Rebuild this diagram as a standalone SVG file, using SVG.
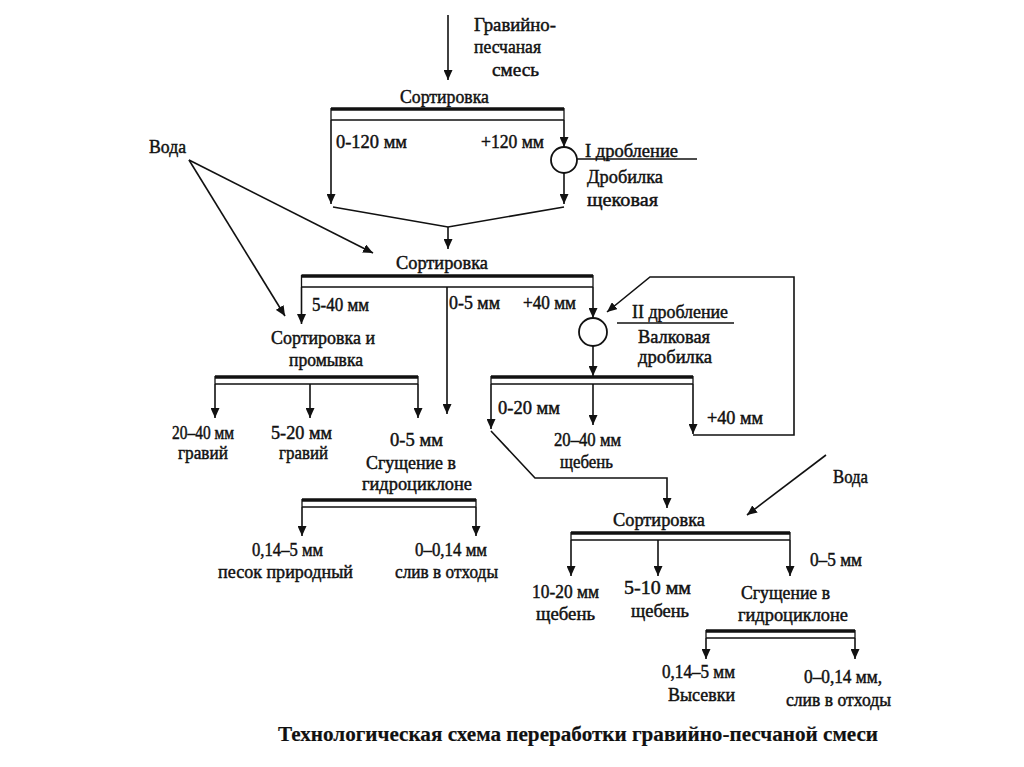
<svg xmlns="http://www.w3.org/2000/svg" width="1024" height="767" viewBox="0 0 1024 767">
<style>
text{font-family:"Liberation Serif","Times New Roman",serif;font-size:18px;fill:#111;stroke:#111;stroke-width:0.45}
.cap{font-size:22px;font-weight:bold;stroke-width:0.2}
.ln{fill:none;stroke:#111;stroke-width:1.6}
.thick{fill:none;stroke:#111;stroke-width:3.5}
.thin{fill:none;stroke:#111;stroke-width:1.3}
.arr{fill:none;stroke:#111;stroke-width:1.6;marker-end:url(#ah)}
.crusher{fill:#fff;stroke:#111;stroke-width:1.8}
</style>
<defs>
<marker id="ah" markerUnits="userSpaceOnUse" markerWidth="10" markerHeight="9" refX="10" refY="4.5" orient="auto">
<path d="M0,0 L10,4.5 L0,9 z" fill="#111"/>
</marker>
</defs>
<rect width="1024" height="767" fill="#fff"/>

<g id="connectors">
<path class="arr" d="M448,15 V80"/>
<path class="arr" d="M331,120 V204"/>
<path class="arr" d="M564,120 V147"/>
<path class="arr" d="M564,173 V204"/>
<path class="ln" d="M333,207 L448,227 L564,207"/>
<path class="arr" d="M448,227 V249"/>
<path class="arr" d="M189,160 L373,253"/>
<path class="arr" d="M189,160 L285,316"/>
<path class="arr" d="M301.5,287 V324"/>
<path class="arr" d="M447,287 V414"/>
<path class="arr" d="M593,287 V318"/>
<path class="arr" d="M593,346 V376"/>
<path class="arr" d="M491,384 V429"/>
<path class="arr" d="M593,384 V425"/>
<path class="arr" d="M693,384 V434"/>
<path class="arr" d="M693,435 H794 V277 H650 L607,312"/>
<path class="arr" d="M491,431 L535,478 H667 V508"/>
<path class="arr" d="M215,384 V418"/>
<path class="arr" d="M310,384 V418"/>
<path class="arr" d="M418,384 V418"/>
<path class="arr" d="M302,507 V536"/>
<path class="arr" d="M476,507 V536"/>
<path class="arr" d="M826,455 L747,515"/>
<path class="arr" d="M571,540 V576"/>
<path class="arr" d="M658,540 V576"/>
<path class="arr" d="M790,540 V576"/>
<path class="arr" d="M706,638 V659"/>
<path class="arr" d="M855,638 V659"/>
</g>

<g id="feed">
<text x="474" y="31" textLength="82" lengthAdjust="spacingAndGlyphs">Гравийно-</text>
<text x="474" y="53" textLength="67" lengthAdjust="spacingAndGlyphs">песчаная</text>
<text x="492" y="76" textLength="47" lengthAdjust="spacingAndGlyphs">смесь</text>
</g>

<g id="sort1">
<text x="400" y="103" textLength="89" lengthAdjust="spacingAndGlyphs">Сортировка</text>
<path class="thick" d="M331,109 H564"/>
<path class="thin" d="M331,120 H564 M331,108 V120 M564,108 V120"/>
<text x="336" y="148" textLength="71" lengthAdjust="spacingAndGlyphs">0-120 мм</text>
<text x="481" y="148" textLength="63" lengthAdjust="spacingAndGlyphs">+120 мм</text>
</g>

<g id="crusher1">
<circle class="crusher" cx="564" cy="160" r="13"/>
<path class="ln" d="M577,159 H697"/>
<text x="585" y="157" textLength="93" lengthAdjust="spacingAndGlyphs">I дробление</text>
<text x="587" y="183" textLength="76" lengthAdjust="spacingAndGlyphs">Дробилка</text>
<text x="587" y="206" textLength="71" lengthAdjust="spacingAndGlyphs">щековая</text>
</g>

<g id="water1">
<text x="149" y="153" textLength="37" lengthAdjust="spacingAndGlyphs">Вода</text>
</g>

<g id="sort2">
<text x="396" y="269" textLength="92" lengthAdjust="spacingAndGlyphs">Сортировка</text>
<path class="thick" d="M301.5,276 H593"/>
<path class="thin" d="M301.5,287 H593 M301.5,275 V287 M593,275 V287"/>
<text x="312" y="311" textLength="57" lengthAdjust="spacingAndGlyphs">5-40 мм</text>
<text x="449" y="309" textLength="51" lengthAdjust="spacingAndGlyphs">0-5 мм</text>
<text x="523" y="309" textLength="53" lengthAdjust="spacingAndGlyphs">+40 мм</text>
</g>

<g id="crusher2">
<circle class="crusher" cx="593" cy="332" r="14"/>
<path class="ln" d="M617,323 H734"/>
<text x="632" y="318" textLength="96" lengthAdjust="spacingAndGlyphs">II дробление</text>
<text x="638" y="343" textLength="72" lengthAdjust="spacingAndGlyphs">Валковая</text>
<text x="638" y="363" textLength="74" lengthAdjust="spacingAndGlyphs">дробилка</text>
</g>

<g id="sort3">
<path class="thick" d="M491,377 H693"/>
<path class="thin" d="M491,384 H693 M491,376 V384 M693,376 V384"/>
<text x="498" y="414" textLength="62" lengthAdjust="spacingAndGlyphs">0-20 мм</text>
<text x="554" y="446" textLength="67" lengthAdjust="spacingAndGlyphs">20–40 мм</text>
<text x="560" y="468" textLength="53" lengthAdjust="spacingAndGlyphs">щебень</text>
<text x="707" y="424" textLength="56" lengthAdjust="spacingAndGlyphs">+40 мм</text>
</g>

<g id="wash">
<text x="271" y="344" textLength="104" lengthAdjust="spacingAndGlyphs">Сортировка и</text>
<text x="289" y="366" textLength="74" lengthAdjust="spacingAndGlyphs">промывка</text>
<path class="thick" d="M215,377 H418"/>
<path class="thin" d="M215,384 H418 M215,376 V384 M418,376 V384"/>
<text x="172" y="439" textLength="62" lengthAdjust="spacingAndGlyphs">20–40 мм</text>
<text x="178" y="459" textLength="50" lengthAdjust="spacingAndGlyphs">гравий</text>
<text x="271" y="439" textLength="61" lengthAdjust="spacingAndGlyphs">5-20 мм</text>
<text x="279" y="459" textLength="49" lengthAdjust="spacingAndGlyphs">гравий</text>
</g>

<g id="hydro1">
<text x="390" y="446" textLength="53" lengthAdjust="spacingAndGlyphs">0-5 мм</text>
<text x="366" y="469" textLength="90" lengthAdjust="spacingAndGlyphs">Сгущение в</text>
<text x="362" y="490" textLength="110" lengthAdjust="spacingAndGlyphs">гидроциклоне</text>
<path class="thick" d="M302,500 H476"/>
<path class="thin" d="M302,507 H476 M302,499 V507 M476,499 V507"/>
<text x="252" y="556" textLength="71" lengthAdjust="spacingAndGlyphs">0,14–5 мм</text>
<text x="218" y="578" textLength="135" lengthAdjust="spacingAndGlyphs">песок природный</text>
<text x="415" y="556" textLength="72" lengthAdjust="spacingAndGlyphs">0–0,14 мм</text>
<text x="395" y="578" textLength="103" lengthAdjust="spacingAndGlyphs">слив в отходы</text>
</g>

<g id="water2">
<text x="833" y="483" textLength="35" lengthAdjust="spacingAndGlyphs">Вода</text>
</g>

<g id="sort4">
<text x="613" y="526" textLength="92" lengthAdjust="spacingAndGlyphs">Сортировка</text>
<path class="thick" d="M571,533 H790"/>
<path class="thin" d="M571,540 H790 M571,532 V540 M790,532 V540"/>
<text x="810" y="566" textLength="52" lengthAdjust="spacingAndGlyphs">0–5 мм</text>
<text x="532" y="598" textLength="67" lengthAdjust="spacingAndGlyphs">10-20 мм</text>
<text x="536" y="620" textLength="59" lengthAdjust="spacingAndGlyphs">щебень</text>
<text x="624" y="594" textLength="67" lengthAdjust="spacingAndGlyphs">5-10 мм</text>
<text x="631" y="617" textLength="58" lengthAdjust="spacingAndGlyphs">щебень</text>
</g>

<g id="hydro2">
<text x="741" y="599" textLength="89" lengthAdjust="spacingAndGlyphs">Сгущение в</text>
<text x="738" y="621" textLength="110" lengthAdjust="spacingAndGlyphs">гидроциклоне</text>
<path class="thick" d="M706,631 H855"/>
<path class="thin" d="M706,638 H855 M706,630 V638 M855,630 V638"/>
<text x="662" y="678" textLength="73" lengthAdjust="spacingAndGlyphs">0,14–5 мм</text>
<text x="668" y="701" textLength="67" lengthAdjust="spacingAndGlyphs">Высевки</text>
<text x="804" y="683" textLength="78" lengthAdjust="spacingAndGlyphs">0–0,14 мм,</text>
<text x="786" y="706" textLength="105" lengthAdjust="spacingAndGlyphs">слив в отходы</text>
</g>

<g id="caption">
<text class="cap" x="278" y="741" textLength="600" lengthAdjust="spacingAndGlyphs">Технологическая схема переработки гравийно-песчаной смеси</text>
</g>
</svg>
